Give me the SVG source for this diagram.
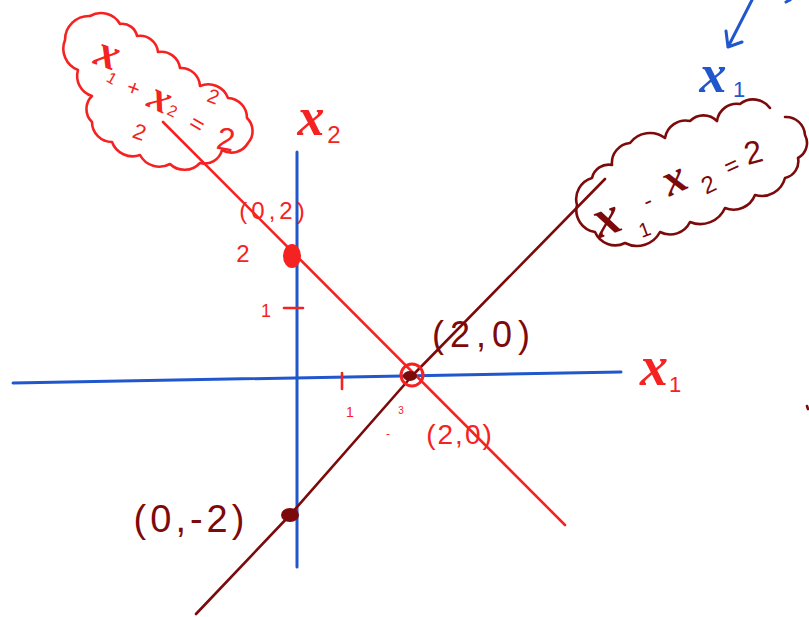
<svg xmlns="http://www.w3.org/2000/svg" width="809" height="617" viewBox="0 0 809 617">
<style>
.r{fill:#f52222}.d{fill:#7d0a0a}.b{fill:#2157cc}
.hx{font-family:"Liberation Serif",serif;font-style:italic;font-weight:bold}
.hn{font-family:"Liberation Sans",sans-serif}
.sr{stroke:#f52222;fill:none;stroke-width:2.6;stroke-linecap:round;stroke-linejoin:round}
.sd{stroke:#7d0a0a;fill:none;stroke-width:2.6;stroke-linecap:round;stroke-linejoin:round}
.sb{stroke:#2157cc;fill:none;stroke-width:3;stroke-linecap:round;stroke-linejoin:round}
</style>
<rect width="809" height="617" fill="#fff"/>
<g id="axes">
<path class="sb" d="M13 383 L621 372"/>
<path class="sb" d="M297 152 L297 567"/>
</g>
<g id="connectors">
<path class="sr" d="M163 122 L565 525"/>
<path class="sd" d="M196 614 L290 515 L412 376 L605 179"/>
<path class="sb" stroke-width="2.5" d="M752 0 L728 47 M726 31 L728 47 L742 42"/>
<path class="sb" stroke-width="2" d="M786 2 L790 0"/>
</g>
<g id="ticks">
<path class="sr" d="M342 373 L342 389"/>
<path class="sr" d="M284 308 L303 308"/>
<path class="sd" d="M807 406 L808 409"/>
</g>
<g id="point-0-2">
<ellipse class="r" cx="292" cy="256" rx="9" ry="12"/>
</g>
<g id="point-2-0">
<circle cx="412" cy="375" r="11" fill="none" stroke="#f52222" stroke-width="3"/>
<ellipse class="d" cx="410" cy="376" rx="7" ry="5"/>
</g>
<g id="point-0-m2">
<ellipse class="d" cx="290" cy="515" rx="9" ry="7"/>
</g>
<g id="cloud-red">
<path class="sr" d="M65 40 A24 24 0 0 1 90 16 A22 22 0 0 1 120 24 A15 15 0 0 1 137 36 A18 18 0 0 1 158 52 A19 19 0 0 1 180 68 A19 19 0 0 1 200 86 A21 21 0 0 1 228 98 A20 20 0 0 1 247 118 A18 18 0 0 1 248 143 A19 19 0 0 1 222 150 A18 18 0 0 1 200 163 A21 21 0 0 1 170 164 A22 22 0 0 1 140 155 A22 22 0 0 1 112 142 A20 20 0 0 1 92 122 A18 18 0 0 1 92 96 A21 21 0 0 1 78 70 A23 23 0 0 1 65 40 Z"/>
<text class="r hx" font-size="46" transform="translate(103,67) rotate(20)" text-anchor="middle">x</text>
<text class="r hn" font-size="16" transform="translate(109,83) rotate(30)" text-anchor="middle">1</text>
<text class="r hn" font-size="22" transform="translate(131,95) rotate(20)" text-anchor="middle">+</text>
<text class="r hx" font-size="42" transform="translate(155,110) rotate(25)" text-anchor="middle">x</text>
<text class="r hn" font-size="16" transform="translate(170,116) rotate(25)" text-anchor="middle">2</text>
<text class="r hn" font-size="22" transform="translate(137,139) rotate(20)" text-anchor="middle">2</text>
<text class="r hn" font-size="20" transform="translate(211,103) rotate(20)" text-anchor="middle">2</text>
<text class="r hn" font-size="24" transform="translate(193,131) rotate(30)" text-anchor="middle">=</text>
<text class="r hn" font-size="32" transform="translate(224,150) rotate(10)" text-anchor="middle">2</text>
</g>
<g id="cloud-darkred">
<path class="sd" d="M785 117 A19 19 0 0 1 805 135 A17 17 0 0 1 798 158 A17 17 0 0 1 785 178 A24 24 0 0 1 755 195 A23 23 0 0 1 725 208 A27 27 0 0 1 690 222 A22 22 0 0 1 660 232 A26 26 0 0 1 625 243 A22 22 0 0 1 595 232 A22 22 0 0 1 577 205 A22 22 0 0 1 592 178 A17 17 0 0 1 612 165 A20 20 0 0 1 630 143 A25 25 0 0 1 665 138 A21 21 0 0 1 690 121 A19 19 0 0 1 717 121 A20 20 0 0 1 740 104 A21 21 0 0 1 770 108"/>
<text class="d hx" font-size="54" transform="translate(612,234) rotate(-20)" text-anchor="middle">x</text>
<text class="d hn" font-size="20" transform="translate(647,236) rotate(-20)" text-anchor="middle">1</text>
<text class="d hn" font-size="24" transform="translate(651,208) rotate(-25)" text-anchor="middle">-</text>
<text class="d hx" font-size="46" transform="translate(680,192) rotate(-25)" text-anchor="middle">x</text>
<text class="d hn" font-size="24" transform="translate(712,192) rotate(-25)" text-anchor="middle">2</text>
<text class="d hn" font-size="24" transform="translate(735,173) rotate(-25)" text-anchor="middle">=</text>
<text class="d hn" font-size="32" transform="translate(756,163) rotate(-15)" text-anchor="middle">2</text>
</g>
<g id="labels">
<text class="b hx" font-size="54" x="713" y="92" text-anchor="middle">x</text>
<text class="b hn" font-size="22" x="739" y="97" text-anchor="middle">1</text>
<text class="r hx" font-size="56" x="654" y="385" text-anchor="middle">x</text>
<text class="r hn" font-size="22" x="675" y="392" text-anchor="middle">1</text>
<text class="r hx" font-size="54" x="311" y="135" text-anchor="middle">x</text>
<text class="r hn" font-size="24" x="334" y="143" text-anchor="middle">2</text>
<text class="r hn" font-size="24" x="274" y="219" letter-spacing="4" text-anchor="middle">(0,2)</text>
<text class="r hn" font-size="24" x="243" y="262" text-anchor="middle">2</text>
<text class="r hn" font-size="18" x="266" y="317" text-anchor="middle">1</text>
<text class="r hn" font-size="14" x="350" y="417" text-anchor="middle">1</text>
<text class="r hn" font-size="10" x="401" y="414" text-anchor="middle">3</text>
<text class="r hn" font-size="12" x="388" y="438" text-anchor="middle">-</text>
<text class="r hn" font-size="28" x="460" y="444" letter-spacing="2" text-anchor="middle">(2,0)</text>
<text class="d hn" font-size="36" x="484" y="347" letter-spacing="6" text-anchor="middle">(2,0)</text>
<text class="d hn" font-size="38" x="191" y="532" letter-spacing="4" text-anchor="middle">(0,-2)</text>
</g>
</svg>
